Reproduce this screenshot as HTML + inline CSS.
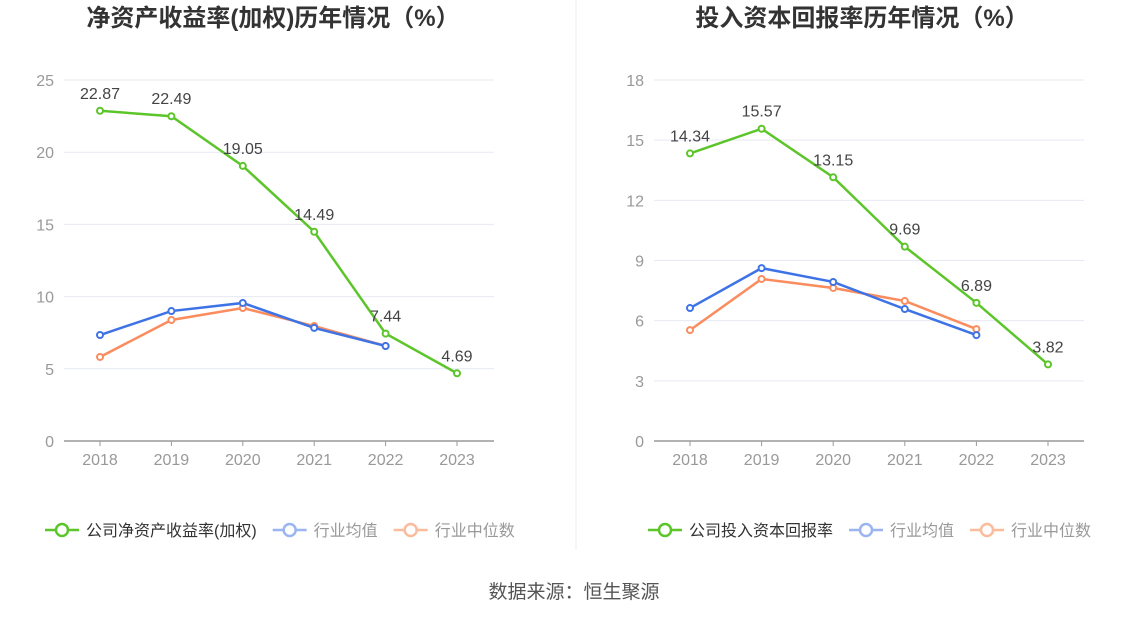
<!DOCTYPE html>
<html><head><meta charset="utf-8">
<style>
body{margin:0;background:#fff;font-family:"Liberation Sans","Noto Sans CJK SC",sans-serif;}
svg text{font-family:"Liberation Sans","Noto Sans CJK SC",sans-serif;}
</style></head>
<body>
<svg id="c" width="1148" height="619">
<line x1="576" y1="0" x2="576" y2="550" stroke="#eeeeee"/>
<text x="574" y="598" text-anchor="middle" font-size="19" fill="#555">数据来源：恒生聚源</text>
</svg>
<script>
const years=["2018","2019","2020","2021","2022","2023"];
const roeCompany=[22.87,22.49,19.05,14.49,7.44,4.69];
const roeAvg=[7.34,9.0,9.56,7.83,6.58];
const roeMedian=[5.82,8.38,9.21,7.96,6.58];
const roeTicks=[0,5,10,15,20,25];
const roicCompany=[14.34,15.57,13.15,9.69,6.89,3.82];
const roicAvg=[6.63,8.62,7.93,6.58,5.28];
const roicMedian=[5.53,8.08,7.63,6.98,5.58];
const roicTicks=[0,3,6,9,12,15,18];

const svg=document.getElementById('c');const NS='http://www.w3.org/2000/svg';
function mk(t,a,p){const e=document.createElementNS(NS,t);for(const k in a)e.setAttribute(k,a[k]);(p||svg).appendChild(e);return e;}
function chart(o){
  const g=mk('g',{});
  
  
  const max=o.ticks[o.ticks.length-1];
  const y=v=>o.y0-(v/max)*(o.y0-o.y1);
  const x=i=>o.x0+i*(o.xn-o.x0)/(years.length-1);
  const t=mk('text',{x:o.cx,y:26,'text-anchor':'middle','font-size':24,'font-weight':'bold',fill:'#333'},g);t.textContent=o.title;
  
  o.ticks.forEach(v=>{
    if(v>0){const l=mk('line',{x1:o.ax0,x2:o.ax1,y1:y(v),y2:y(v),stroke:'#e6e9f2'},g);}
    const tt=mk('text',{x:o.ax0-10,y:y(v)+6,'text-anchor':'end','font-size':16,fill:'#999'},g);tt.textContent=v;
    
  });
  const ax=mk('line',{x1:o.ax0,x2:o.ax1,y1:o.y0,y2:o.y0,stroke:'#999','stroke-width':1.5},g);
  
  years.forEach((yr,i)=>{
    mk('line',{x1:x(i),x2:x(i),y1:o.y0,y2:o.y0+5,stroke:'#999'},g);
    const tt=mk('text',{x:x(i),y:o.y0+24,'text-anchor':'middle','font-size':16,fill:'#999'},g);tt.textContent=yr;
    
  });
  function series(arr,color,nm,labels){
    const s=mk('g',{},g);
    mk('polyline',{points:arr.map((v,i)=>x(i)+','+y(v)).join(' '),fill:'none',stroke:color,'stroke-width':2.5},s);
    arr.forEach((v,i)=>{
      const c=mk('circle',{cx:x(i),cy:y(v),r:3,fill:'#fff',stroke:color,'stroke-width':2},s);
      
      if(labels){const l=mk('text',{x:x(i),y:y(v)-12,'text-anchor':'middle','font-size':16,fill:'#444'},s);l.textContent=v.toFixed(2);
        }
    });
  }
  series(o.median,'#fa8c5e','industry-median-line');
  series(o.avg,'#3e73e6','industry-average-line');
  series(o.company,'#5cc52a','company-line',true);
  let lx=o.lx;
  [[o.legend,'#5cc52a'],['行业均值','#9bb5f2'],['行业中位数','#fbbc9e']].forEach(([lab,col])=>{
    const lg=mk('g',{},g);
    mk('line',{x1:lx,x2:lx+34,y1:530,y2:530,stroke:col,'stroke-width':2.5},lg);
    mk('circle',{cx:lx+17,cy:530,r:6,fill:'#fff',stroke:col,'stroke-width':2.5},lg);
    const tt=mk('text',{x:lx+41,y:536,'font-size':16,fill:col==='#5cc52a'?'#333':'#999'},lg);tt.textContent=lab;
    lx+=41+tt.getComputedTextLength()+16;
  });
}
chart({name:'roe-chart',title:'净资产收益率(加权)历年情况（%）',cx:273,ticks:roeTicks,y0:441,y1:80,x0:100,xn:457,ax0:64,ax1:494,company:roeCompany,avg:roeAvg,median:roeMedian,legend:'公司净资产收益率(加权)',lx:45});
chart({name:'roic-chart',title:'投入资本回报率历年情况（%）',cx:862,ticks:roicTicks,y0:441,y1:80,x0:690,xn:1048,ax0:654,ax1:1084,company:roicCompany,avg:roicAvg,median:roicMedian,legend:'公司投入资本回报率',lx:648});
</script>
</body></html>
